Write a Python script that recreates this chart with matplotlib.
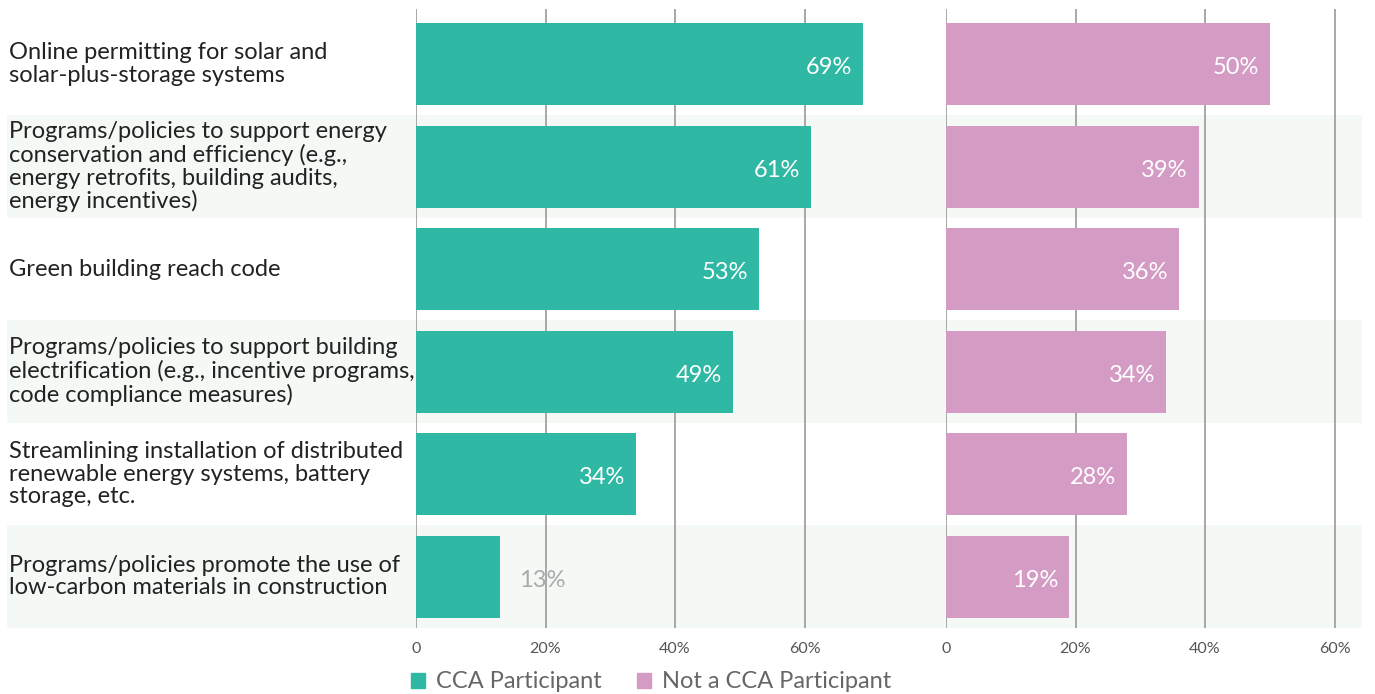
import matplotlib
matplotlib.use("Agg")
import matplotlib.pyplot as plt
import matplotlib.patches as mpatches
from matplotlib.transforms import blended_transform_factory

plt.rcParams['font.family'] = ['Lato', 'DejaVu Sans']

categories = [
    "Online permitting for solar and\nsolar-plus-storage systems",
    "Programs/policies to support energy\nconservation and efficiency (e.g.,\nenergy retrofits, building audits,\nenergy incentives)",
    "Green building reach code",
    "Programs/policies to support building\nelectrification (e.g., incentive programs,\ncode compliance measures)",
    "Streamlining installation of distributed\nrenewable energy systems, battery\nstorage, etc.",
    "Programs/policies promote the use of\nlow-carbon materials in construction",
]
cca_values = [69, 61, 53, 49, 34, 13]
non_cca_values = [50, 39, 36, 34, 28, 19]
tick_values = [0, 20, 40, 60]
tick_labels = ["0", "20%", "40%", "60%"]

TEAL = "#2fb8a3"
PINK = "#d49bc4"
SHADE = "#f4f9f5"
GRID = "#999999"

W, H = 1375, 694
fig = plt.figure(figsize=(W / 100, H / 100), dpi=100)

row_h = 102.5
top_px = 9
bottom_px = 627.75
n = len(categories)
ylim = (n - 0.5, -0.5 - (13 - top_px) / row_h)
ax_bottom = 1 - bottom_px / H
ax_height = (bottom_px - top_px) / H

# background bands spanning the whole width
bg = fig.add_axes([7 / W, ax_bottom, (1362 - 7) / W, ax_height], zorder=0)
bg.set_xlim(0, 1)
bg.set_ylim(*ylim)
for i in range(n):
    if i % 2 == 1:
        bg.axhspan(i - 0.5, i + 0.5, color=SHADE, lw=0)
bg.axis('off')

px_per_pct = 6.475
left0, right0 = 416, 946
ax1 = fig.add_axes([left0 / W, ax_bottom, (930 - left0) / W, ax_height], zorder=2)
ax1.set_xlim(0, (930 - left0) / px_per_pct)
ax2 = fig.add_axes([right0 / W, ax_bottom, (1362 - right0) / W, ax_height], zorder=2)
ax2.set_xlim(0, (1362 - right0) / px_per_pct)

base_off = 10 / row_h  # baseline of value labels sits a bit below bar centre
ypos = list(range(n))
for ax, vals, color in [(ax1, cca_values, TEAL), (ax2, non_cca_values, PINK)]:
    ax.set_facecolor('none')
    ax.set_ylim(*ylim)
    for t in tick_values:
        ax.axvline(t, color=GRID, lw=1.2, zorder=1)
    ax.barh(ypos, vals, height=0.8, color=color, zorder=2)
    for y, v in zip(ypos, vals):
        if v >= 15:
            ax.text(v - 11 / px_per_pct, y + base_off, f"{v}%", ha='right', va='baseline',
                    fontsize=17, color='white', zorder=3)
        else:
            ax.text(v + 19 / px_per_pct, y + base_off, f"{v}%", ha='left', va='baseline',
                    fontsize=17, color='#aaaaaa', zorder=3)
    ax.set_xticks(tick_values)
    ax.set_xticklabels(tick_labels)
    ax.set_yticks([])
    ax.tick_params(axis='x', length=0, pad=10, labelsize=11.5, labelcolor='#555555')
    for s in ax.spines.values():
        s.set_visible(False)

trans = blended_transform_factory(fig.transFigure, ax1.transData)
for y, label in zip(ypos, categories):
    ax1.text(9 / W, y, label, transform=trans, ha='left', va='center',
             fontsize=17, color='#222222', linespacing=1.1, clip_on=False)

handles = [
    mpatches.Patch(color=TEAL, label="CCA Participant"),
    mpatches.Patch(color=PINK, label="Not a CCA Participant"),
]
fig.legend(handles=handles, loc='center', bbox_to_anchor=(651 / W, 1 - 682 / H),
           ncol=2, frameon=False, fontsize=17, labelcolor='#666666',
           handlelength=0.6, handleheight=0.6, handletextpad=0.45, columnspacing=1.5)

fig.savefig('out.png', dpi=100)
